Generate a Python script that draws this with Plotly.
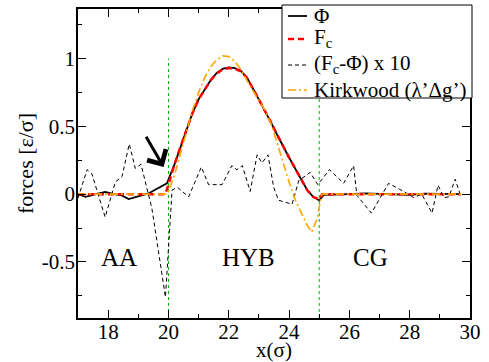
import plotly.graph_objects as go

# ---- data ----
x_phi = [17.0, 17.25, 17.5, 17.9, 18.2, 18.45, 18.68, 19.0, 19.34, 19.62, 19.95,
         20.2, 20.4, 20.6, 20.8, 21.0, 21.2, 21.4, 21.6, 21.8, 22.0, 22.2, 22.4,
         22.6, 22.8, 23.0, 23.2, 23.4, 23.6, 23.8, 24.0, 24.2, 24.4, 24.6, 24.8,
         25.0, 25.15, 25.5, 26.0, 26.5, 27.0, 27.5, 28.0, 28.5, 29.0, 29.7]
phi = [0.0, -0.02, -0.005, 0.017, 0.0, -0.01, -0.037, -0.015, 0.005, 0.04, 0.08,
       0.22, 0.35, 0.48, 0.60, 0.70, 0.77, 0.84, 0.895, 0.925, 0.935, 0.93, 0.91,
       0.86, 0.78, 0.70, 0.62, 0.53, 0.44, 0.35, 0.27, 0.19, 0.11, 0.03, -0.02,
       -0.045, -0.005, -0.005, 0.0, 0.005, 0.0, 0.0, -0.005, 0.003, 0.0, 0.0]

x_fc = [17.0, 19.9, 20.0, 20.2, 20.4, 20.6, 20.8, 21.0, 21.2, 21.4, 21.6, 21.8,
        22.0, 22.2, 22.4, 22.6, 22.8, 23.0, 23.2, 23.4, 23.6, 23.8, 24.0, 24.2,
        24.4, 24.6, 24.8, 25.0, 25.1, 29.7]
fc = [0.0, 0.0, 0.07, 0.22, 0.35, 0.48, 0.60, 0.70, 0.77, 0.84, 0.89, 0.92,
      0.93, 0.925, 0.905, 0.86, 0.78, 0.70, 0.62, 0.53, 0.44, 0.35, 0.27, 0.19,
      0.11, 0.03, -0.02, -0.04, 0.0, 0.0]

x_diff = [17.0, 17.3, 17.46, 17.9, 18.24, 18.46, 18.7, 18.9, 19.09, 19.45, 19.9,
          20.12, 20.3, 20.67, 21.09, 21.33, 21.78, 22.1, 22.27, 22.45, 22.71,
          22.94, 23.1, 23.3, 23.49, 23.65, 24.1, 24.32, 24.7, 24.95, 25.34,
          25.81, 26.14, 26.25, 26.73, 27.3, 27.8, 28.13, 28.4, 28.74, 28.94,
          29.13, 29.3, 29.51, 29.7]
diff10 = [-0.03, 0.18, 0.15, -0.17, 0.09, 0.13, 0.37, 0.19, 0.22, -0.105, -0.76,
          0.03, 0.05, -0.02, 0.20, 0.07, 0.07, 0.21, 0.18, 0.21, 0.02,
          0.29, 0.23, 0.29, 0.05, -0.045, -0.074, 0.10, 0.16, 0.07, 0.18,
          0.08, 0.21, -0.01, -0.14, 0.08, 0.02, -0.025, 0.0, -0.14, 0.066,
          -0.025, -0.02, 0.11, -0.02]

x_kw = [17.0, 19.95, 20.0, 20.2, 20.4, 20.6, 20.8, 21.0, 21.2, 21.4, 21.6, 21.8,
        22.0, 22.2, 22.4, 22.6, 22.8, 23.0, 23.2, 23.4, 23.6, 23.8, 24.0, 24.2,
        24.4, 24.6, 24.75, 24.95, 25.05, 25.1, 29.7]
kirkwood = [0.0, 0.0, 0.02, 0.14, 0.30, 0.47, 0.62, 0.75, 0.86, 0.94, 0.99, 1.02,
            1.015, 0.98, 0.92, 0.84, 0.76, 0.69, 0.62, 0.52, 0.38, 0.23, 0.09,
            -0.04, -0.14, -0.23, -0.28, -0.17, -0.03, 0.0, 0.0]

series_names = ["Φ", "F<sub>c</sub>", "(F<sub>c</sub>-Φ) x 10", "Kirkwood (λ’Δg’)"]
x_ticks = [18, 20, 22, 24, 26, 28, 30]
y_ticks = [-0.5, 0, 0.5, 1]
y_tick_text = ["-0.5", "0", "0.5", "1"]
region_labels = ["AA", "HYB", "CG"]
region_x = [18.37, 22.65, 26.7]
boundaries = [20, 25]

FONT = "Liberation Serif"
W, H = 489, 362
ML, MR, MT, MB = 78, 19, 9, 44
PW, PH = W - ML - MR, H - MT - MB


def px2paper(px, py):
    return (px - ML) / PW, (H - MB - py) / PH


styles = [
    dict(color="black", width=1.8, dash="solid"),
    dict(color="red", width=2.5, dash="6px,4px"),
    dict(color="black", width=1, dash="4px,3px"),
    dict(color="#FFA500", width=1.6, dash="8px,3px,2px,3px"),
]
xs = [x_phi, x_fc, x_diff, x_kw]
ys = [phi, fc, diff10, kirkwood]

fig = go.Figure()
for xv, yv, nm, st in zip(xs, ys, series_names, styles):
    fig.add_trace(go.Scatter(x=xv, y=yv, mode="lines", name=nm, line=st,
                             showlegend=False, hoverinfo="skip"))

for b in boundaries:
    fig.add_shape(type="line", x0=b, x1=b, y0=-0.914, y1=1.0, xref="x", yref="y",
                  line=dict(color="#00B000", width=1, dash="dot"), layer="below")

for lab, xx in zip(region_labels, region_x):
    fig.add_annotation(x=xx, y=-0.468, text=lab, showarrow=False,
                       font=dict(family=FONT, size=25, color="black"))

fig.add_annotation(x=19.84, y=0.20, ax=19.23, ay=0.435, xref="x", yref="y",
                   axref="x", ayref="y", text="", showarrow=True,
                   arrowhead=4, arrowsize=1.4, arrowwidth=3, arrowcolor="black")

# ---- manual legend ----
bx0, by0 = px2paper(282, 98)
bx1, by1 = px2paper(472, 5)
fig.add_shape(type="rect", xref="paper", yref="paper", x0=bx0, y0=by0, x1=bx1, y1=by1,
              fillcolor="white", line=dict(color="black", width=1), layer="above")
row_y = [16, 39, 65, 90]
text_y = [16, 38, 64, 90]
for nm, st, ry, ty in zip(series_names, styles, row_y, text_y):
    sx0, sy = px2paper(288, ry)
    sx1, _ = px2paper(307, ry)
    fig.add_shape(type="line", xref="paper", yref="paper", x0=sx0, x1=sx1, y0=sy, y1=sy,
                  line=st, layer="above")
    tx, tyy = px2paper(312, ty)
    fig.add_annotation(x=tx, y=tyy, xref="paper", yref="paper", text=nm,
                       showarrow=False, xanchor="left", yanchor="middle",
                       font=dict(family=FONT, size=21, color="black"))

axis_common = dict(showline=True, linecolor="black", linewidth=1.5, mirror="allticks",
                   ticks="inside", ticklen=8, tickwidth=1.3, tickcolor="black",
                   showgrid=False, zeroline=False, automargin=False,
                   tickfont=dict(family=FONT, size=21, color="black"))

fig.update_xaxes(range=[17, 30], tickvals=x_ticks, ticklabelstandoff=-6,
                 minor=dict(dtick=1, ticks="inside", ticklen=4, tickcolor="black",
                            tickwidth=1.3, showgrid=False),
                 title=dict(text="x(σ)", font=dict(family=FONT, size=21, color="black"),
                            standoff=6),
                 **axis_common)
fig.update_yaxes(range=[-0.914, 1.366], tickvals=y_ticks, ticktext=y_tick_text,
                 ticklabelstandoff=-3,
                 minor=dict(dtick=0.25, tick0=0, ticks="inside", ticklen=4,
                            tickcolor="black", tickwidth=1.3, showgrid=False),
                 title=dict(text="forces [ε/σ]", font=dict(family=FONT, size=22, color="black"),
                            standoff=2),
                 **axis_common)

fig.update_layout(
    width=W, height=H,
    margin=dict(l=ML, r=MR, t=MT, b=MB),
    paper_bgcolor="white", plot_bgcolor="white",
    font=dict(family=FONT, color="black"),
    showlegend=False,
    hovermode=False,
)

fig.write_html("out.html", config={"displayModeBar": False},
               post_script="document.body.style.margin='0';"
                           "document.body.style.overflow='hidden';")
